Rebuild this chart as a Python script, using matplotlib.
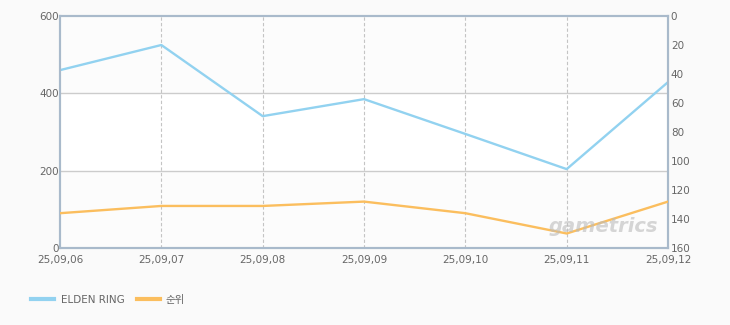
import matplotlib
matplotlib.use("Agg")
import matplotlib.pyplot as plt
from matplotlib.lines import Line2D

plt.rcParams['font.family'] = ['DejaVu Sans', 'Noto Sans CJK KR']

dates = ["25,09,06", "25,09,07", "25,09,08", "25,09,09", "25,09,10", "25,09,11", "25,09,12"]
elden_ring = [460, 525, 341, 385, 295, 204, 429]
rank = [136, 131, 131, 128, 136, 150, 128]

blue = "#92d2f0"
orange = "#fbbe5e"
spine_c = "#a9bacb"
text_c = "#666666"

fig = plt.figure(figsize=(7.3, 3.25), dpi=100, facecolor="#fafafa")
ax = fig.add_axes([60/730, 1 - 248/325, 608/730, 232/325])
ax.set_facecolor("#fcfcfc")
x = list(range(len(dates)))

ax.set_xlim(0, len(dates) - 1)
ax.set_ylim(0, 600)
ax.axhspan(200, 400, color="white", zorder=0)
for yv in (200, 400):
    ax.axhline(yv, color="#cccccc", lw=1, zorder=1)
for xv in x[1:-1]:
    ax.axvline(xv, color="#c4c4c4", lw=0.8, ls=(0, (3, 2)), zorder=1)

ax.plot(x, elden_ring, color=blue, lw=1.7, zorder=3)
ax.set_yticks([0, 200, 400, 600])
ax.set_xticks(x)
ax.set_xticklabels(dates)
ax.tick_params(axis='x', length=0, labelsize=7.5, colors=text_c, pad=5)
ax.tick_params(axis='y', length=0, labelsize=7.5, colors=text_c, pad=1)
for s in ax.spines.values():
    s.set_color(spine_c)
    s.set_linewidth(1.5)

ax2 = ax.twinx()
ax2.set_ylim(160, 0)
ax2.plot(x, rank, color=orange, lw=1.7, zorder=3)
ax2.set_yticks(list(range(0, 161, 20)))
ax2.tick_params(axis='y', length=0, labelsize=7.5, colors=text_c, pad=2)
for s in ax2.spines.values():
    s.set_color(spine_c)
    s.set_linewidth(1.5)

fig.text(603/730, 1 - 226/325, "gametrics", fontsize=14, fontweight="bold",
         style="italic", color="#bbbbbb", alpha=0.6, ha="center", va="center")

handles = [Line2D([0], [0], color=blue, lw=3), Line2D([0], [0], color=orange, lw=3)]
fig.legend(handles, ["ELDEN RING", "순위"], loc="center left",
           bbox_to_anchor=(22/730, 1 - 300/325), ncol=2, frameon=False,
           fontsize=7.5, labelcolor=text_c, handlelength=2.2, columnspacing=1.2,
           handletextpad=0.6)

fig.savefig("out.png", dpi=100, facecolor=fig.get_facecolor())
